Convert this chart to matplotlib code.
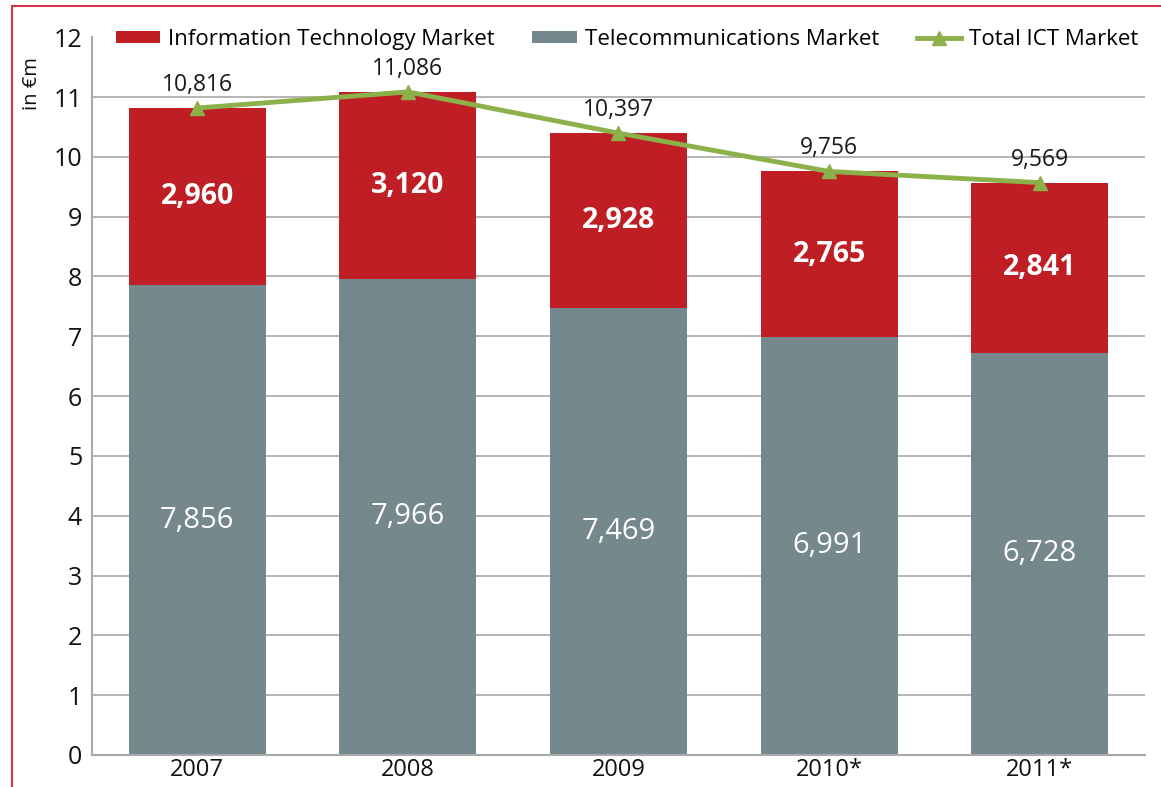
import matplotlib
matplotlib.use("Agg")
import matplotlib.pyplot as plt
from matplotlib.patches import Rectangle

# values in € thousand million (labels shown as "x,xxx" in €m)
years = ["2007", "2008", "2009", "2010*", "2011*"]
telecom = [7856, 7966, 7469, 6991, 6728]
it_market = [2960, 3120, 2928, 2765, 2841]
total_ict = [10816, 11086, 10397, 9756, 9569]

red = "#BE1E24"
grey = "#74888E"
green = "#8DB14A"

plt.rcParams["font.family"] = ["Open Sans", "DejaVu Sans"]

fig = plt.figure(figsize=(11.61, 7.87), dpi=100)
ax = fig.add_axes([0.0792, 0.0407, 0.907, 0.912])

x = range(len(years))
tel = [v / 1000 for v in telecom]
itm = [v / 1000 for v in it_market]
tot = [v / 1000 for v in total_ict]

b_tel = ax.bar(x, tel, width=0.65, color=grey, label="Telecommunications Market", zorder=2)
b_it = ax.bar(x, itm, width=0.65, bottom=tel, color=red, label="Information Technology Market", zorder=2)
ln, = ax.plot(x, tot, color=green, lw=3.5, marker="^", markersize=10, label="Total ICT Market", zorder=3)

for i in x:
    ax.text(i, tel[i] / 2, f"{telecom[i]:,}", ha="center", va="center",
            color="white", fontsize=21, zorder=4)
    ax.text(i, tel[i] + itm[i] / 2, f"{it_market[i]:,}", ha="center", va="center",
            color="white", fontsize=20.5, fontweight="bold", zorder=4)
    ax.annotate(f"{total_ict[i]:,}", (i, tot[i]), xytext=(0, 8), textcoords="offset points",
                ha="center", va="bottom", fontsize=16.5, color="#1a1a1a", zorder=4)

ax.set_xlim(-0.5, 4.5)
ax.set_ylim(0, 12)
ax.set_yticks(range(13))
ax.set_xticks(list(x))
ax.set_xticklabels(years)
ax.tick_params(axis="y", length=0, labelsize=18, colors="#111111", pad=7)
ax.tick_params(axis="x", length=0, labelsize=17, colors="#111111", pad=2)
ax.yaxis.grid(True, color="#A8A8A8", lw=1.2, zorder=0)
ax.get_ygridlines()[-1].set_visible(False)
ax.set_axisbelow(True)
for s in ["top", "right"]:
    ax.spines[s].set_visible(False)
for s in ["left", "bottom"]:
    ax.spines[s].set_color("#A8A8A8")
    ax.spines[s].set_linewidth(1.5)

ax.set_ylabel("in €m", fontsize=14.5, color="#111111")
ax.yaxis.set_label_coords(-0.047, 0.935)

leg = ax.legend([b_it, b_tel, ln],
                ["Information Technology Market", "Telecommunications Market", "Total ICT Market"],
                loc="lower center", bbox_to_anchor=(0.508, 0.97), ncol=3, frameon=False,
                fontsize=16, handlelength=2.0, handleheight=0.42, columnspacing=1.7,
                handletextpad=0.35, borderaxespad=0)

# pink frame around the figure (cropped at right and bottom)
fig.patches.append(Rectangle((12 / 1161, -0.05), 1.2, (787 - 6) / 787 + 0.05,
                             transform=fig.transFigure, fill=False,
                             edgecolor="#D6334F", lw=1.5))

fig.savefig("out.png", dpi=100)
